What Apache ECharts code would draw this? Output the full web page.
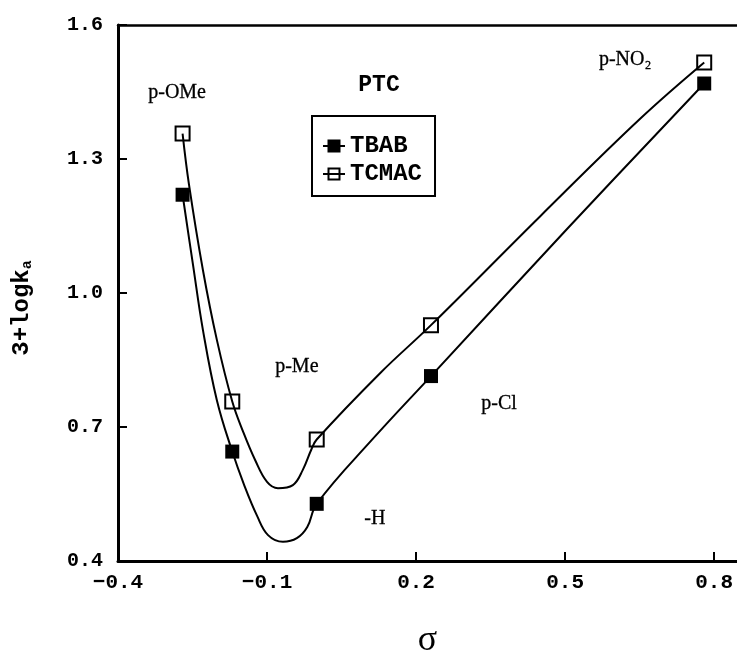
<!DOCTYPE html>
<html>
<head>
<meta charset="utf-8">
<script src="https://cdn.jsdelivr.net/npm/echarts@6/dist/echarts.min.js"></script>
<style>
  html, body { margin: 0; padding: 0; background: #fff; }
  #chart { width: 737px; height: 653px; }
</style>
</head>
<body>
<div id="chart"></div>
<script>
// Hammett sigma constants of the para substituents
const sigma = [-0.27, -0.17, 0.0, 0.23, 0.78];
// 3 + log k for each catalyst
const tbab  = [1.22, 0.645, 0.528, 0.814, 1.469];
const tcmac = [1.357, 0.757, 0.672, 0.928, 1.516];

// fitted curves through each data set, as (sigma, 3+log k) pairs
const tbabCurve = [
  [-0.27, 1.22], [-0.249, 1.063], [-0.229, 0.917], [-0.201, 0.760], [-0.17, 0.645],
  [-0.146, 0.570], [-0.120, 0.501], [-0.098, 0.458], [-0.068, 0.443], [-0.040, 0.451],
  [-0.019, 0.476], [0.0, 0.528], [0.111, 0.671], [0.23, 0.814], [0.502, 1.141], [0.78, 1.469]
];
const tcmacCurve = [
  [-0.27, 1.357], [-0.257, 1.242], [-0.229, 1.051], [-0.201, 0.895], [-0.17, 0.757],
  [-0.148, 0.689], [-0.124, 0.626], [-0.100, 0.577], [-0.078, 0.563], [-0.048, 0.570],
  [-0.028, 0.604], [-0.011, 0.649], [0.0, 0.672], [0.128, 0.821], [0.23, 0.928],
  [0.450, 1.172], [0.651, 1.390], [0.78, 1.516]
];

// substituent names and where they are written
const substituents = ['p-OMe', 'p-Me', '-H', 'p-Cl', 'p-NO\u2082'];
const substituentAt = [[-0.281, 1.448], [-0.040, 0.834], [0.117, 0.494], [0.367, 0.751], [0.621, 1.522]];

// axis ticks
const xTicks = [-0.4, -0.1, 0.2, 0.5, 0.8];
const yTicks = [0.4, 0.7, 1.0, 1.3, 1.6];

const monoBold = { fontFamily: 'Liberation Mono', fontWeight: 'bold', color: '#000' };
const serif = 'Liberation Serif';

const fmt = v => v.toFixed(1).replace('-', '\u2212');
const isTick = (list, v) => list.some(t => Math.abs(t - v) < 1e-6);

const chart = echarts.init(document.getElementById('chart'), null, { renderer: 'canvas' });

chart.setOption({
  animation: false,
  backgroundColor: '#fff',
  grid: { left: 118, top: 25, right: 0, bottom: 92, containLabel: false, outerBoundsMode: 'none' },
  graphic: [{
    type: 'text',
    x: 379, y: 85,
    style: {
      text: 'PTC', textAlign: 'center', textVerticalAlign: 'middle',
      font: 'bold 23px "Liberation Mono"', fill: '#000'
    }
  }],
  legend: {
    orient: 'vertical',
    left: 312, top: 116,
    padding: [18, 13, 10, 10],
    itemGap: 4,
    itemWidth: 22, itemHeight: 11,
    borderColor: '#000', borderWidth: 2,
    textStyle: Object.assign({ fontSize: 24 }, monoBold),
    data: [
      { name: 'TBAB', icon: 'path://M0,5.5L22,5.5M5.5,0H16.5V11H5.5Z',
        itemStyle: { color: '#000', borderColor: '#000', borderWidth: 2, opacity: 1 } },
      { name: 'TCMAC', icon: 'path://M0,5.5L22,5.5M5.5,0H16.5V11H5.5Z',
        itemStyle: { color: 'transparent', borderColor: '#000', borderWidth: 2, opacity: 1 } }
    ]
  },
  xAxis: [{
    type: 'value',
    min: -0.4, max: 0.846, interval: 0.3,
    name: '\u03c3', nameLocation: 'middle', nameGap: 62,
    nameTextStyle: { fontFamily: serif, fontSize: 36, color: '#000' },
    axisLine: { onZero: false, lineStyle: { color: '#000', width: 3 } },
    axisTick: { inside: true, length: 9, lineStyle: { color: '#000', width: 2 } },
    axisLabel: {
      margin: 11, showMaxLabel: false,
      formatter: v => isTick(xTicks, v) ? fmt(v) : '',
      ...monoBold, fontSize: 21
    },
    splitLine: { show: false }
  }, {
    type: 'value', position: 'top',
    min: -0.4, max: 0.846, interval: 0.3,
    axisLine: { show: true, onZero: false, lineStyle: { color: '#000', width: 2.5 } },
    axisTick: { show: false }, axisLabel: { show: false }, splitLine: { show: false }
  }],
  yAxis: {
    type: 'value',
    min: 0.4, max: 1.6, interval: 0.3,
    name: '{m|3+logk}{s|a}', nameLocation: 'middle', nameGap: 83,
    nameTextStyle: {
      padding: [0, 30, 0, 0],
      rich: {
        m: Object.assign({ fontSize: 24 }, monoBold),
        s: Object.assign({ fontSize: 15, padding: [11, 0, 0, 0] }, monoBold)
      }
    },
    axisLine: { onZero: false, lineStyle: { color: '#000', width: 3 } },
    axisTick: { inside: true, length: 9, lineStyle: { color: '#000', width: 2 } },
    axisLabel: {
      margin: 15,
      formatter: v => isTick(yTicks, v) ? fmt(v) : '',
      ...monoBold, fontSize: 20
    },
    splitLine: { show: false }
  },
  series: [
    {
      name: 'TBAB curve', type: 'line', data: tbabCurve, xAxisIndex: 0,
      smooth: 0.4, showSymbol: false, silent: true,
      lineStyle: { color: '#000', width: 2 }, z: 2
    },
    {
      name: 'TCMAC curve', type: 'line', data: tcmacCurve, xAxisIndex: 0,
      smooth: 0.4, showSymbol: false, silent: true,
      lineStyle: { color: '#000', width: 2 }, z: 2
    },
    {
      name: 'TBAB', type: 'scatter', symbol: 'rect', symbolSize: 14, xAxisIndex: 0,
      data: sigma.map((s, i) => [s, tbab[i]]),
      itemStyle: { color: '#000', opacity: 1 }, z: 5
    },
    {
      name: 'TCMAC', type: 'scatter', symbol: 'rect', symbolSize: 14, xAxisIndex: 0,
      data: sigma.map((s, i) => [s, tcmac[i]]),
      itemStyle: { color: 'transparent', borderColor: '#000', borderWidth: 2, opacity: 1 }, z: 5
    },
    {
      name: 'substituents', type: 'scatter', symbolSize: 0, silent: true, xAxisIndex: 0,
      data: substituentAt.map((p, i) => ({ value: p, name: substituents[i] })),
      itemStyle: { opacity: 1 },
      label: {
        show: true, position: 'inside', formatter: p => p.name,
        fontFamily: serif, fontSize: 20, color: '#000',
        textBorderColor: '#000', textBorderWidth: 0.3
      },
      z: 6
    }
  ]
});
</script>
</body>
</html>
